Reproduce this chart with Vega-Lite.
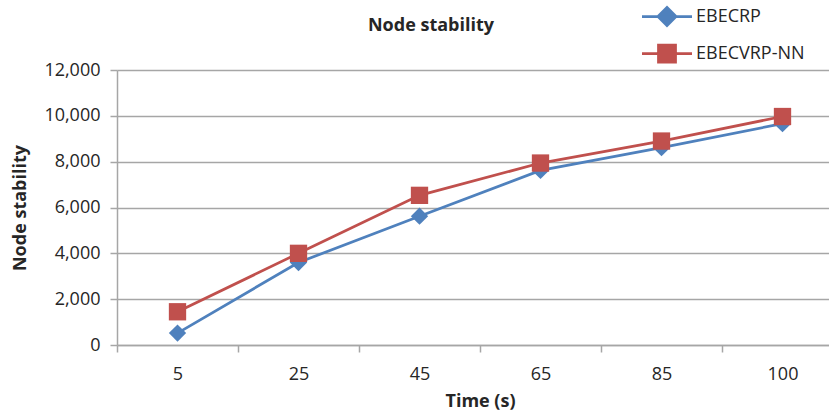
{
  "$schema": "https://vega.github.io/schema/vega-lite/v6.json",
  "autosize": "none",
  "padding": {"left": 117, "top": 70, "right": 0, "bottom": 68},
  "width": 712,
  "height": 275,
  "background": "white",
  "config": {
    "view": {"stroke": null},
    "font": "Open Sans",
    "axis": {"labelFont": "Open Sans", "titleFont": "Open Sans", "labelColor": "#262626", "titleColor": "#262626"},
    "legend": {"labelFont": "Open Sans"}
  },
  "title": {
    "text": "Node stability",
    "font": "Open Sans",
    "fontSize": 18,
    "fontWeight": "bold",
    "color": "#262626",
    "anchor": "middle",
    "frame": "group",
    "baseline": "alphabetic",
    "dx": -42,
    "offset": -46
  },
  "data": {
    "values": [
      {"time": 5, "series": "EBECRP", "value": 520},
      {"time": 25, "series": "EBECRP", "value": 3600},
      {"time": 45, "series": "EBECRP", "value": 5620},
      {"time": 65, "series": "EBECRP", "value": 7620},
      {"time": 85, "series": "EBECRP", "value": 8610},
      {"time": 100, "series": "EBECRP", "value": 9660},
      {"time": 5, "series": "EBECVRP-NN", "value": 1450},
      {"time": 25, "series": "EBECVRP-NN", "value": 4000},
      {"time": 45, "series": "EBECVRP-NN", "value": 6530},
      {"time": 65, "series": "EBECVRP-NN", "value": 7940},
      {"time": 85, "series": "EBECVRP-NN", "value": 8900},
      {"time": 100, "series": "EBECVRP-NN", "value": 9970}
    ]
  },
  "encoding": {
    "x": {
      "field": "time",
      "type": "ordinal",
      "bandPosition": 0.5,
      "scale": {"type": "band", "range": [0, 726], "paddingInner": 0, "paddingOuter": 0},
      "axis": {
        "title": "Time (s)",
        "labelAngle": 0,
        "labelFontSize": 18,
        "labelPadding": 13,
        "titleFontSize": 18,
        "titleFontWeight": "bold",
        "titlePadding": 9,
        "tickBand": "extent",
        "tickSize": 7,
        "tickColor": "#a6a6a6",
        "domainColor": "#a6a6a6",
        "domainWidth": 1.5,
        "tickWidth": 1.5,
        "grid": false
      }
    },
    "y": {
      "field": "value",
      "type": "quantitative",
      "scale": {"domain": [0, 12000], "nice": false},
      "axis": {
        "title": "Node stability",
        "values": [0, 2000, 4000, 6000, 8000, 10000, 12000],
        "format": ",d",
        "labelFontSize": 18,
        "labelPadding": 10,
        "titleFontSize": 18,
        "titleFontWeight": "bold",
        "titlePadding": 14,
        "tickSize": 7,
        "tickColor": "#a6a6a6",
        "domainColor": "#a6a6a6",
        "domainWidth": 1.5,
        "tickWidth": 1.5,
        "grid": true,
        "gridColor": "#a6a6a6",
        "gridWidth": 1.5
      }
    }
  },
  "layer": [
    {
      "mark": {"type": "line", "strokeWidth": 2.75},
      "encoding": {
        "color": {
          "field": "series",
          "type": "nominal",
          "scale": {"domain": ["EBECRP", "EBECVRP-NN"], "range": ["#4f81bd", "#c0504d"]},
          "legend": {
            "title": null,
            "orient": "none",
            "legendX": 536,
            "legendY": -67.5,
            "padding": 0,
            "values": ["EBECRP"],
            "symbolType": "M-2,0H2M-0.72,0L0,-0.72L0.72,0L0,0.72Z",
            "symbolSize": 625,
            "symbolStrokeWidth": 2.75,
            "symbolStrokeColor": "#4f81bd",
            "symbolFillColor": "#4f81bd",
            "symbolOpacity": 1,
            "labelFontSize": 18,
            "labelColor": "#262626",
            "labelOffset": 15
          }
        }
      }
    },
    {
      "mark": {"type": "point", "filled": true, "opacity": 1, "size": 300},
      "encoding": {
        "color": {
          "field": "series",
          "type": "nominal",
          "legend": {
            "title": null,
            "orient": "none",
            "legendX": 536,
            "legendY": -67.5,
            "padding": 0,
            "values": ["EBECRP"],
            "symbolType": "M-2,0H2M-0.72,0L0,-0.72L0.72,0L0,0.72Z",
            "symbolSize": 625,
            "symbolStrokeWidth": 2.75,
            "symbolStrokeColor": "#4f81bd",
            "symbolFillColor": "#4f81bd",
            "symbolOpacity": 1,
            "labelFontSize": 18,
            "labelColor": "#262626",
            "labelOffset": 15
          }
        },
        "fill": {
          "field": "series",
          "type": "nominal",
          "scale": {"domain": ["EBECVRP-NN", "EBECRP"], "range": ["#c0504d", "#4f81bd"]},
          "legend": {
            "title": null,
            "orient": "none",
            "legendX": 536,
            "legendY": -30.5,
            "padding": 0,
            "values": ["EBECVRP-NN"],
            "symbolType": "M-2,0H2M-0.68,-0.68H0.68V0.68H-0.68Z",
            "symbolSize": 625,
            "symbolStrokeWidth": 2.75,
            "symbolStrokeColor": "#c0504d",
            "symbolOpacity": 1,
            "labelFontSize": 18,
            "labelColor": "#262626",
            "labelOffset": 15
          }
        },
        "shape": {
          "field": "series",
          "type": "nominal",
          "scale": {"range": ["diamond", "square"]},
          "legend": null
        }
      }
    }
  ]
}
